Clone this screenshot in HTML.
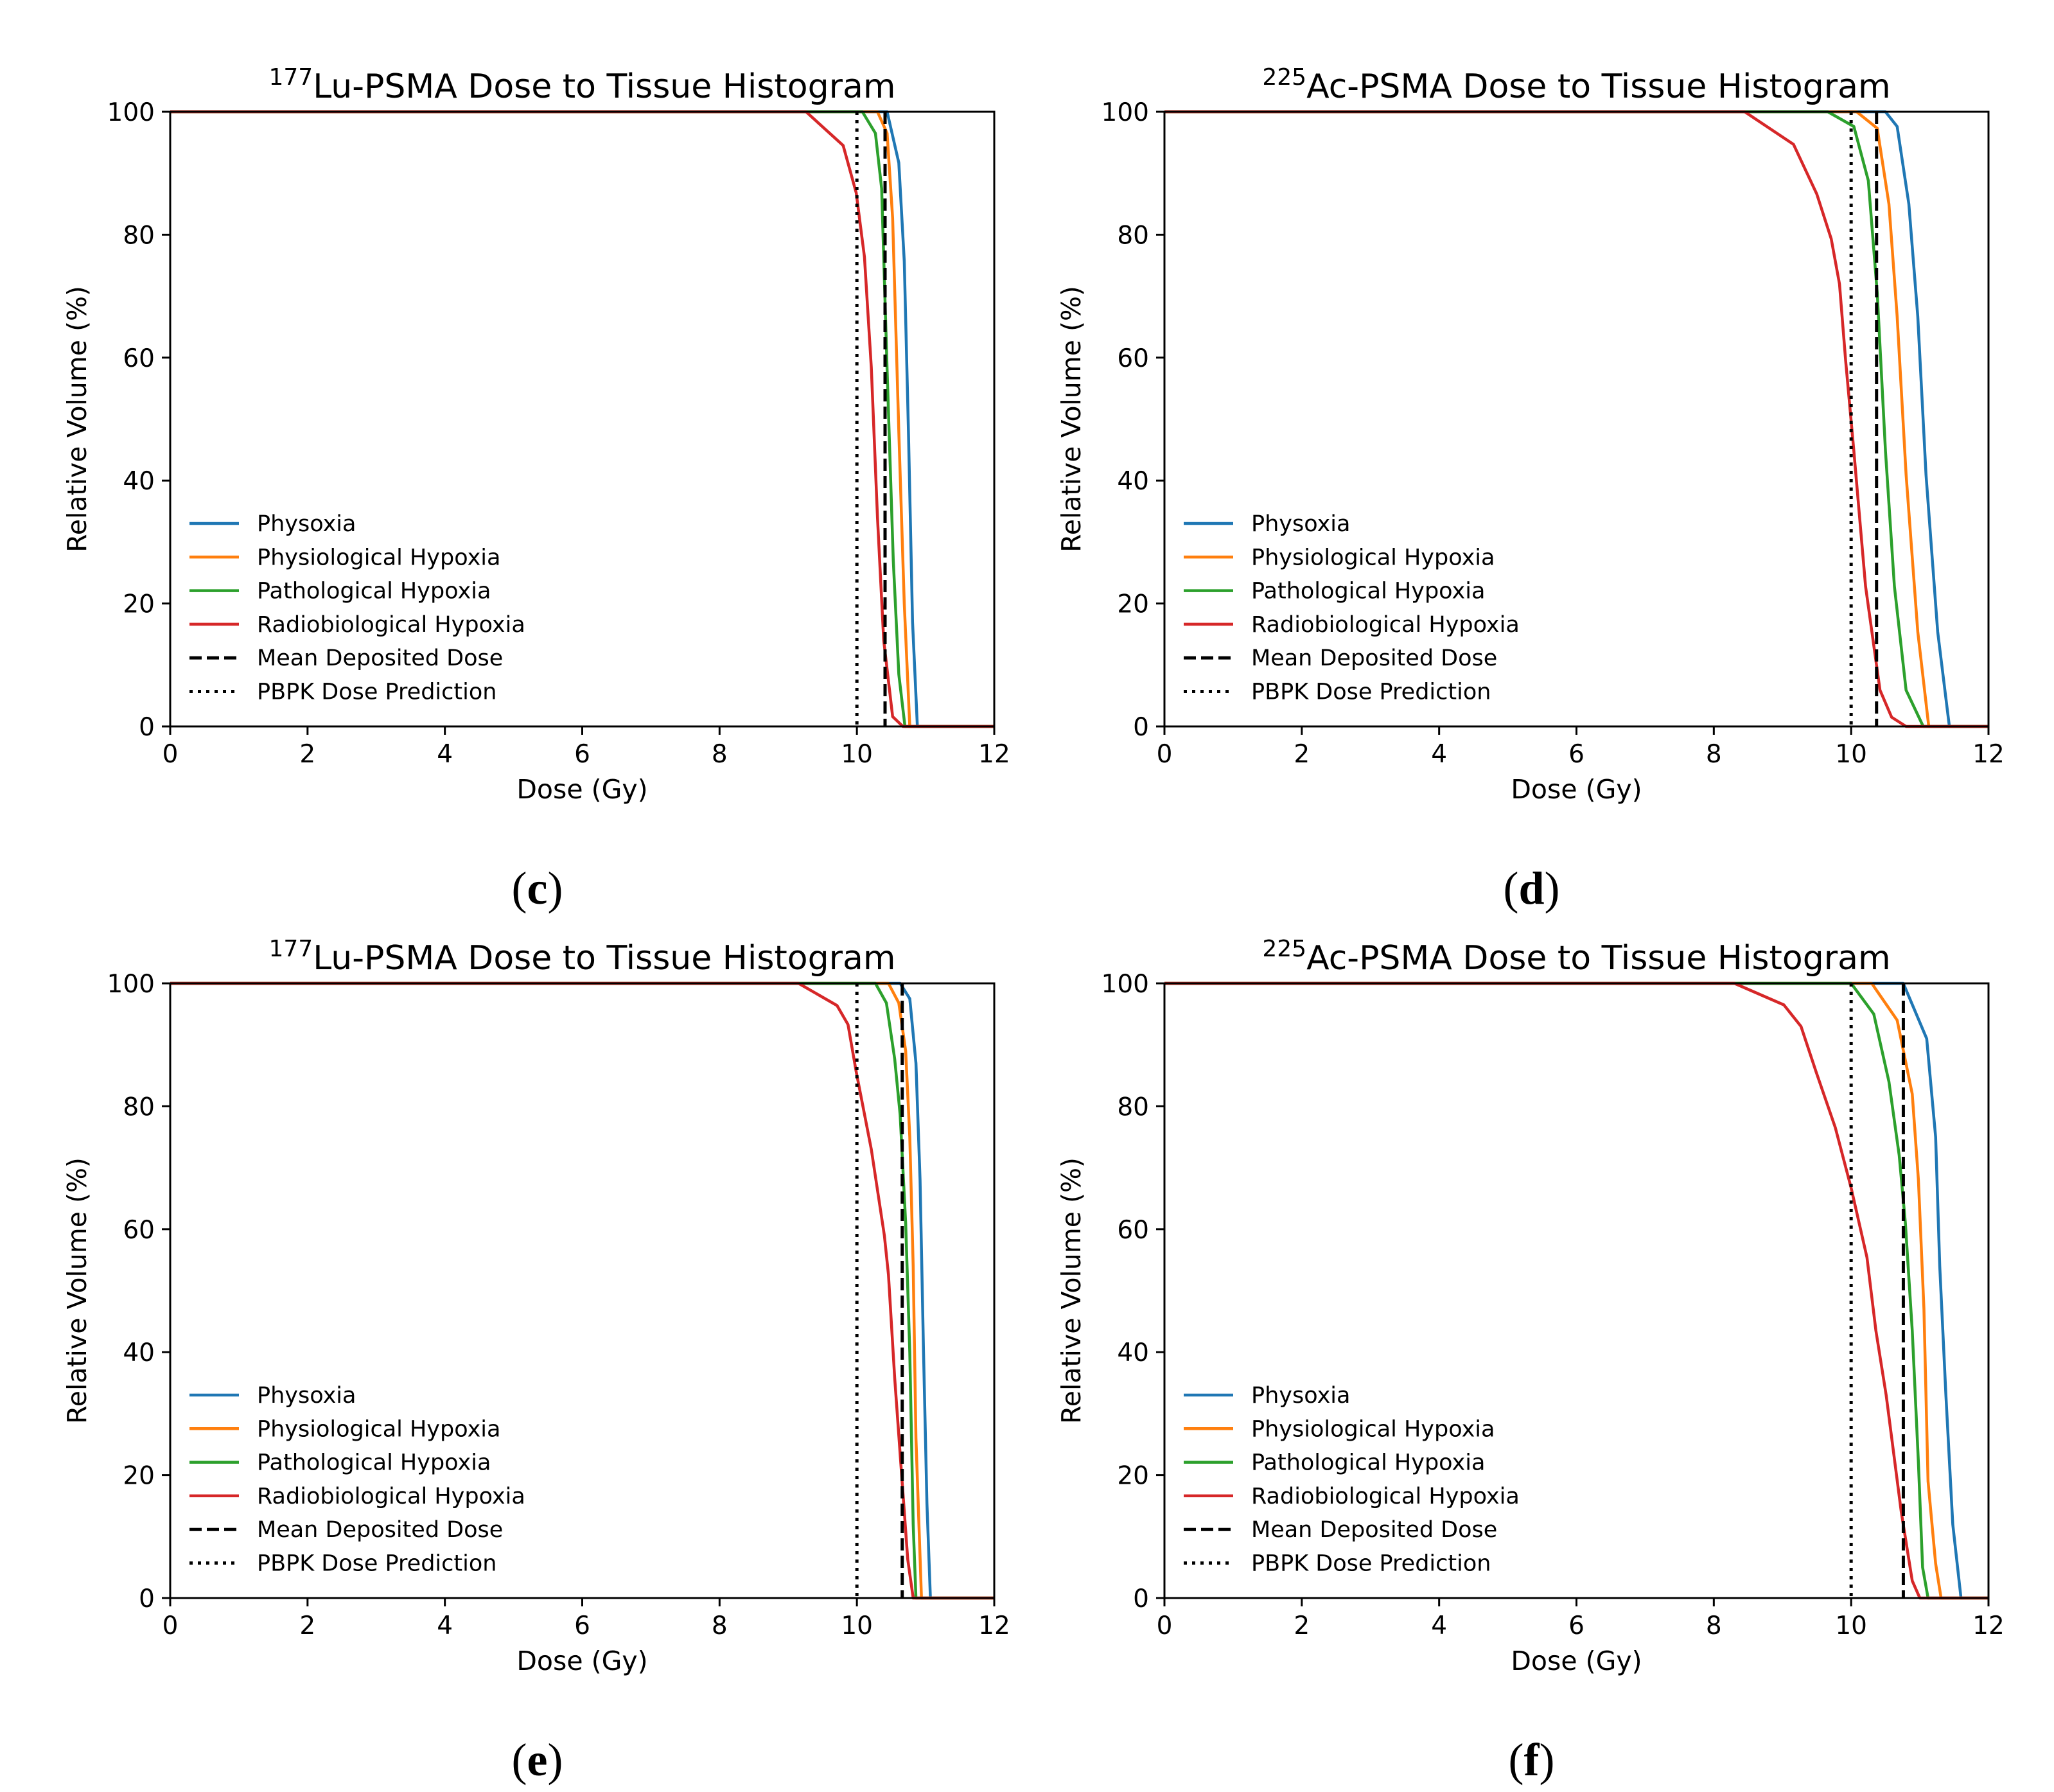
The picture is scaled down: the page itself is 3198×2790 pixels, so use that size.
<!DOCTYPE html>
<html><head><meta charset="utf-8">
<style>
html,body{margin:0;padding:0;background:#fff;}
svg{display:block;}
text{font-family:"DejaVu Sans","Liberation Sans",sans-serif;fill:#000;}
.lbl{font-family:"Liberation Serif","DejaVu Serif",serif;}
</style></head>
<body>
<svg id="fig" width="3198" height="2790" viewBox="0 0 3198 2790" xmlns="http://www.w3.org/2000/svg"></svg>
<script>
// ---- data (dose in Gy, volume in %) ----
const seriesNames = ["Physoxia","Physiological Hypoxia","Pathological Hypoxia","Radiobiological Hypoxia"];
const seriesColors = ["#1f77b4","#ff7f0e","#2ca02c","#d62728"];
const xTicks = [0,2,4,6,8,10,12];
const yTicks = [0,20,40,60,80,100];

// panel c
const cBlueX = [0,10.44,10.61,10.69,10.75,10.81,10.88,12];
const cBlueY = [100,100,91.7,75.7,48,17,0,0];
const cOrangeX = [0,10.30,10.44,10.52,10.61,10.69,10.77,12];
const cOrangeY = [100,100,96.5,82.7,48,20,0,0];
const cGreenX = [0,10.08,10.27,10.36,10.44,10.53,10.61,10.70,12];
const cGreenY = [100,100,96.5,87.5,58,27,8.5,0,0];
const cRedX = [0,9.26,9.80,9.99,10.11,10.21,10.30,10.39,10.52,10.67,12];
const cRedY = [100,100,94.5,86.8,76.4,58.4,34,14,1.6,0,0];
const cMean = 10.41, cPbpk = 10;

// panel d
const dBlueX = [0,10.50,10.67,10.84,10.97,11.09,11.26,11.43,12];
const dBlueY = [100,100,97.6,85,66.7,41,15.4,0,0];
const dOrangeX = [0,10.08,10.38,10.55,10.67,10.80,10.97,11.13,12];
const dOrangeY = [100,100,97.3,85,66.7,41,15.4,0,0];
const dGreenX = [0,9.66,10.04,10.25,10.38,10.50,10.63,10.80,11.05,12];
const dGreenY = [100,100,97.6,88.8,70.5,44.8,22.8,5.9,0,0];
const dRedX = [0,8.45,9.16,9.50,9.71,9.83,9.92,10.04,10.21,10.42,10.59,10.80,12];
const dRedY = [100,100,94.7,86.6,79.3,72,59.5,44.8,22.8,5.9,1.5,0,0];
const dMean = 10.37, dPbpk = 10;

// panel e
const eBlueX = [0,10.63,10.77,10.86,10.92,10.97,11.02,11.07,12];
const eBlueY = [100,100,97.5,87,68,40,15.4,0,0];
const eOrangeX = [0,10.46,10.61,10.71,10.77,10.82,10.86,10.94,12];
const eOrangeY = [100,100,96.8,89,75,54,26,0,0];
const eGreenX = [0,10.27,10.43,10.55,10.63,10.71,10.77,10.82,10.86,12];
const eGreenY = [100,100,96.8,87.7,78.6,61,40,12,0,0];
const eRedX = [0,9.15,9.71,9.87,9.99,10.21,10.40,10.46,10.55,10.64,10.74,10.82,12];
const eRedY = [100,100,96.4,93.3,85.6,73,59,52.6,35.8,21.8,6.3,0,0];
const eMean = 10.66, ePbpk = 10;

// panel f
const fBlueX = [0,10.76,11.10,11.23,11.29,11.38,11.48,11.60,12];
const fBlueY = [100,100,91,75,54,33,12,0,0];
const fOrangeX = [0,10.30,10.67,10.89,10.98,11.06,11.12,11.23,11.31,12];
const fOrangeY = [100,100,94,82,68,47,19,5.6,0,0];
const fGreenX = [0,10.00,10.33,10.55,10.70,10.79,10.89,10.98,11.04,11.12,12];
const fGreenY = [100,100,95,84,72,61,43.5,22,5,0,0];
const fRedX = [0,8.30,9.02,9.27,9.49,9.77,10.00,10.23,10.36,10.51,10.73,10.89,11.00,12];
const fRedY = [100,100,96.5,93,85.6,76.5,66.7,55.4,43.5,33,14,2.8,0,0];
const fMean = 10.76, fPbpk = 10;

const NS = "http://www.w3.org/2000/svg";
const fig = document.getElementById("fig");
function mk(tag, attrs, parent){ const e=document.createElementNS(NS,tag); for(const k in attrs) e.setAttribute(k,attrs[k]); (parent||fig).appendChild(e); return e; }

const panels = [
  {id:"c", iso:"177", el:"Lu", L:265, T:174, xs:[cBlueX,cOrangeX,cGreenX,cRedX], ys:[cBlueY,cOrangeY,cGreenY,cRedY], mean:cMean, pbpk:cPbpk},
  {id:"d", iso:"225", el:"Ac", L:1813, T:174, xs:[dBlueX,dOrangeX,dGreenX,dRedX], ys:[dBlueY,dOrangeY,dGreenY,dRedY], mean:dMean, pbpk:dPbpk},
  {id:"e", iso:"177", el:"Lu", L:265, T:1531, xs:[eBlueX,eOrangeX,eGreenX,eRedX], ys:[eBlueY,eOrangeY,eGreenY,eRedY], mean:eMean, pbpk:ePbpk},
  {id:"f", iso:"225", el:"Ac", L:1813, T:1531, xs:[fBlueX,fOrangeX,fGreenX,fRedX], ys:[fBlueY,fOrangeY,fGreenY,fRedY], mean:fMean, pbpk:fPbpk}
];
const W = 1283, H = 957;

panels.forEach(p=>{
  const g = mk("g",{});
  
  
  const L=p.L, T=p.T, R=L+W, B=T+H;
  const sx = v => L + v/12*W;
  const sy = v => B - v/100*H;

  p.xs.forEach((xa,i)=>{
    const pts = xa.map((x,j)=>sx(x).toFixed(1)+","+sy(p.ys[i][j]).toFixed(1)).join(" ");
    const pl = mk("polyline",{points:pts,fill:"none",stroke:seriesColors[i],"stroke-width":4.5,"stroke-linejoin":"round"},g);
    
    
  });
  const ml = mk("line",{x1:sx(p.mean),x2:sx(p.mean),y1:T,y2:B,stroke:"#000","stroke-width":5,"stroke-dasharray":"19 8"},g);
  
  
  const pb = mk("line",{x1:sx(p.pbpk),x2:sx(p.pbpk),y1:T,y2:B,stroke:"#000","stroke-width":5,"stroke-dasharray":"5 8"},g);
  
  

  const fr = mk("rect",{x:L,y:T,width:W,height:H,fill:"none",stroke:"#000","stroke-width":3},g);
  
  

  xTicks.forEach(t=>{
    mk("line",{x1:sx(t),x2:sx(t),y1:B,y2:B+13,stroke:"#000","stroke-width":3},g);
    const tx = mk("text",{x:sx(t),y:B+56,"font-size":39,"text-anchor":"middle"},g);
    tx.textContent = t;
    
    
  });
  yTicks.forEach(t=>{
    mk("line",{x1:L-13,x2:L,y1:sy(t),y2:sy(t),stroke:"#000","stroke-width":3},g);
    const tx = mk("text",{x:L-24,y:sy(t)+14,"font-size":39,"text-anchor":"end"},g);
    tx.textContent = t;
    
    
  });

  const xl = mk("text",{x:L+W/2,y:B+112,"font-size":41,"text-anchor":"middle"},g);
  xl.textContent = "Dose (Gy)";
  
  
  const yl = mk("text",{x:0,y:0,"font-size":41,"text-anchor":"middle",transform:`translate(${L-131},${T+H/2}) rotate(-90)`},g);
  yl.textContent = "Relative Volume (%)";
  
  

  const ti = mk("text",{x:L+W/2,y:T-22,"font-size":52,"text-anchor":"middle"},g);
  
  
  const s1 = mk("tspan",{"font-size":36,dy:-20},ti); s1.textContent = p.iso;
  const s2 = mk("tspan",{dy:20},ti); s2.textContent = p.el + "-PSMA Dose to Tissue Histogram";

  const lg = mk("g",{},g);
  
  
  const entries = seriesNames.concat(["Mean Deposited Dose","PBPK Dose Prediction"]);
  entries.forEach((n,i)=>{
    const y = T + 641 + i*52.3;
    const attrs = {x1:L+30,x2:L+107,y1:y,y2:y,"stroke-width":i<4?4.5:5,stroke:i<4?seriesColors[i]:"#000"};
    if(i===4) attrs["stroke-dasharray"]="19 8";
    if(i===5) attrs["stroke-dasharray"]="5 8";
    const ln = mk("line",attrs,lg);
    
    
    const tx = mk("text",{x:L+135,y:y+12,"font-size":35},lg);
    tx.textContent = n;
    
    
  });

  const pl = mk("text",{x:L+W/2-70,y:B+276,"font-size":72,"text-anchor":"middle",class:"lbl"},fig);
  
  
  const a=mk("tspan",{},pl); a.textContent="(";
  const b=mk("tspan",{"font-weight":"bold"},pl); b.textContent=p.id;
  const c=mk("tspan",{},pl); c.textContent=")";
});
</script>
</body></html>
